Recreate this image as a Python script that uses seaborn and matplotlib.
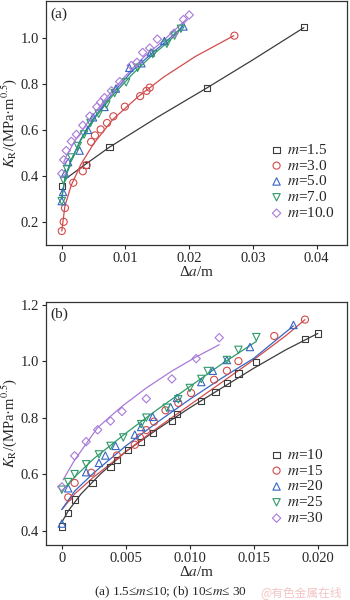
import seaborn as sns
import matplotlib.pyplot as plt

# ---- panel (a): 1.5 <= m <= 10 ----
a_labels = ['1.5', '3.0', '5.0', '7.0', '10.0']

a15_x = [0, 0.0038, 0.0075, 0.0228, 0.038]
a15_y = [0.357, 0.447, 0.527, 0.783, 1.048]
a15_fx = [0.0005, 0.0038, 0.0075, 0.015, 0.0228, 0.030, 0.038]
a15_fy = [0.385, 0.452, 0.525, 0.655, 0.783, 0.905, 1.045]

a30_x = [0, 0.0003, 0.0005, 0.0018, 0.0033, 0.0039, 0.0046, 0.0052, 0.0061,
         0.0071, 0.0081, 0.0099, 0.0123, 0.0133, 0.0138, 0.0271]
a30_y = [0.16, 0.20, 0.26, 0.37, 0.42, 0.447, 0.548, 0.576, 0.602,
         0.630, 0.659, 0.701, 0.747, 0.770, 0.784, 1.01]
a30_fx = [0, 0.0005, 0.0015, 0.003, 0.005, 0.008, 0.012, 0.016, 0.021, 0.027]
a30_fy = [0.16, 0.27, 0.36, 0.45, 0.54, 0.645, 0.745, 0.83, 0.92, 1.01]

a50_x = [0, 0.0002, 0.0005, 0.001, 0.0028, 0.0041, 0.0049, 0.0067, 0.0085,
         0.0106, 0.0125, 0.014, 0.0161, 0.0191]
a50_y = [0.29, 0.33, 0.41, 0.46, 0.51, 0.60, 0.655, 0.70, 0.78,
         0.87, 0.89, 0.937, 0.987, 1.05]
a50_fx = [0, 0.0005, 0.0015, 0.003, 0.005, 0.008, 0.011, 0.014, 0.017, 0.019]
a50_fy = [0.30, 0.39, 0.47, 0.56, 0.65, 0.76, 0.855, 0.93, 1.0, 1.05]

a70_x = [0, 0.0003, 0.0008, 0.0015, 0.0025, 0.0035, 0.0045, 0.0058, 0.007,
         0.0083, 0.0101, 0.0119, 0.0143, 0.0165, 0.0177, 0.0187]
a70_y = [0.29, 0.38, 0.43, 0.48, 0.53, 0.58, 0.63, 0.67, 0.71,
         0.76, 0.807, 0.87, 0.93, 0.975, 1.01, 1.04]
a70_fx = [0, 0.0005, 0.0015, 0.003, 0.005, 0.008, 0.011, 0.014, 0.017, 0.0187]
a70_fy = [0.31, 0.39, 0.47, 0.555, 0.645, 0.75, 0.84, 0.92, 0.99, 1.04]

a100_x = [0, 0.0003, 0.0007, 0.0015, 0.0023, 0.0033, 0.0044, 0.0055, 0.0061,
          0.0067, 0.0078, 0.0091, 0.0109, 0.0118, 0.0127, 0.0138, 0.015,
          0.0176, 0.0191, 0.020]
a100_y = [0.41, 0.47, 0.51, 0.55, 0.58, 0.62, 0.66, 0.70, 0.72,
          0.74, 0.77, 0.81, 0.88, 0.894, 0.937, 0.956, 0.995,
          1.02, 1.08, 1.10]
a100_fx = [0.0003, 0.001, 0.002, 0.004, 0.007, 0.010, 0.013, 0.016, 0.0195]
a100_fy = [0.46, 0.50, 0.55, 0.63, 0.74, 0.835, 0.92, 0.99, 1.08]

# ---- panel (b): 10 <= m <= 30 ----
b_labels = ['10', '15', '20', '25', '30']

b10_x = [0, 0.0005, 0.001, 0.0024, 0.0038, 0.0043, 0.0052, 0.0062, 0.0071,
         0.0086, 0.009, 0.0109, 0.012, 0.0129, 0.0138, 0.0152, 0.019, 0.020]
b10_y = [0.415, 0.462, 0.51, 0.569, 0.625, 0.651, 0.686, 0.714, 0.747,
         0.788, 0.813, 0.858, 0.892, 0.923, 0.956, 0.997, 1.079, 1.098]
b10_fx = [0, 0.0005, 0.0015, 0.003, 0.005, 0.0075, 0.010, 0.0125, 0.015, 0.0175, 0.020]
b10_fy = [0.43, 0.47, 0.53, 0.60, 0.68, 0.76, 0.835, 0.905, 0.975, 1.04, 1.098]

b15_x = [0.0005, 0.001, 0.0023, 0.0043, 0.0057, 0.0061, 0.0066, 0.0072, 0.0081,
         0.0091, 0.0101, 0.0119, 0.0129, 0.0138, 0.0166, 0.019]
b15_y = [0.518, 0.569, 0.605, 0.666, 0.704, 0.73, 0.756, 0.786, 0.826,
         0.852, 0.887, 0.934, 0.966, 1.0, 1.089, 1.147]
b15_fx = [0, 0.001, 0.0025, 0.005, 0.0075, 0.010, 0.0125, 0.015, 0.0175, 0.019]
b15_fy = [0.475, 0.53, 0.59, 0.68, 0.765, 0.845, 0.925, 1.005, 1.09, 1.147]

b20_x = [0, 0.0005, 0.0019, 0.0029, 0.0034, 0.0042, 0.0057, 0.0062, 0.0071,
         0.0085, 0.009, 0.0109, 0.0118, 0.0129, 0.0147, 0.0181]
b20_y = [0.425, 0.55, 0.607, 0.64, 0.666, 0.70, 0.74, 0.767, 0.803,
         0.837, 0.87, 0.926, 0.966, 1.004, 1.05, 1.128]
b20_fx = [0, 0.001, 0.0025, 0.005, 0.0075, 0.010, 0.0125, 0.015, 0.0181]
b20_fy = [0.475, 0.54, 0.605, 0.70, 0.785, 0.865, 0.94, 1.01, 1.125]

b25_x = [0, 0.0005, 0.001, 0.0019, 0.0029, 0.0038, 0.0048, 0.0062, 0.0066,
         0.0082, 0.0091, 0.010, 0.0109, 0.0114, 0.0129, 0.0138, 0.0152]
b25_y = [0.545, 0.572, 0.60, 0.635, 0.67, 0.70, 0.73, 0.777, 0.80,
         0.835, 0.865, 0.905, 0.937, 0.965, 1.004, 1.04, 1.085]
b25_fx = [0, 0.001, 0.0025, 0.005, 0.0075, 0.010, 0.0125, 0.0152]
b25_fy = [0.54, 0.59, 0.655, 0.745, 0.83, 0.91, 0.99, 1.07]

b30_x = [0, 0.001, 0.0019, 0.0028, 0.0038, 0.0047, 0.0066, 0.0086, 0.0105, 0.0123]
b30_y = [0.555, 0.665, 0.715, 0.757, 0.788, 0.822, 0.867, 0.937, 1.009, 1.083]
b30_fx = [0.0001, 0.001, 0.0028, 0.0047, 0.0066, 0.0086, 0.0105, 0.0123]
b30_fy = [0.58, 0.65, 0.765, 0.84, 0.905, 0.965, 1.015, 1.058]

colors = ['#3c3c3c', '#d24b4b', '#3566c4', '#2f9a68', '#a87ad8']
markers = ['s', 'o', '^', 'v', 'D']
msizes = [20, 26, 28, 28, 18]

sns.set_style('ticks')
plt.rcParams['font.family'] = ['Liberation Serif', 'DejaVu Serif']
plt.rcParams['mathtext.fontset'] = 'stix'

fig = plt.figure(figsize=(3.5, 6), dpi=100)
ax1 = fig.add_axes([0.131, 0.592, 0.861, 0.406])
ax2 = fig.add_axes([0.131, 0.092, 0.861, 0.405])


def draw(ax, series, labels):
    for i, (sx, sy, fx, fy) in enumerate(series):
        c = colors[i]
        sns.lineplot(x=fx, y=fy, ax=ax, color=c, lw=0.9, sort=False,
                     estimator=None, legend=False)
        sns.scatterplot(x=sx, y=sy, ax=ax, marker=markers[i], s=msizes[i],
                        facecolor='none', edgecolor=c, linewidth=0.8,
                        label='$m$=' + labels[i], zorder=3)


draw(ax1, [(a15_x, a15_y, a15_fx, a15_fy), (a30_x, a30_y, a30_fx, a30_fy),
           (a50_x, a50_y, a50_fx, a50_fy), (a70_x, a70_y, a70_fx, a70_fy),
           (a100_x, a100_y, a100_fx, a100_fy)], a_labels)
draw(ax2, [(b10_x, b10_y, b10_fx, b10_fy), (b15_x, b15_y, b15_fx, b15_fy),
           (b20_x, b20_y, b20_fx, b20_fy), (b25_x, b25_y, b25_fx, b25_fy),
           (b30_x, b30_y, b30_fx, b30_fy)], b_labels)

ax1.set_xlim(-0.0025, 0.0448)
ax1.set_ylim(0.1, 1.16)
ax1.set_xticks([0, 0.01, 0.02, 0.03, 0.04])
ax1.set_xticklabels(['0', '0.01', '0.02', '0.03', '0.04'])
ax1.set_yticks([0.2, 0.4, 0.6, 0.8, 1.0])
ax1.set_yticklabels(['0.2', '0.4', '0.6', '0.8', '1.0'])

ax2.set_xlim(-0.00125, 0.0223)
ax2.set_ylim(0.35, 1.21)
ax2.set_xticks([0, 0.005, 0.010, 0.015, 0.020])
ax2.set_xticklabels(['0', '0.005', '0.010', '0.015', '0.020'])
ax2.set_yticks([0.4, 0.6, 0.8, 1.0, 1.2])
ax2.set_yticklabels(['0.4', '0.6', '0.8', '1.0', '1.2'])

for ax, tag, leg_y in [(ax1, '(a)', 0.26), (ax2, '(b)', 0.24)]:
    ax.set_xlabel('Δ$a$/m', fontsize=11, labelpad=0)
    ax.set_ylabel('$K_{\\mathrm{R}}$/(MPa·m$^{0.5}$)', fontsize=10.5, labelpad=1)
    ax.tick_params(labelsize=10.5, length=3, width=0.8, pad=2)
    for sp in ax.spines.values():
        sp.set_linewidth(0.9)
        sp.set_color('#333333')
    ax.text(0.015, 0.975, tag, transform=ax.transAxes, ha='left', va='top',
            fontsize=11)
    ax.legend(loc='center left', bbox_to_anchor=(0.72, leg_y), frameon=False,
              fontsize=11, handlelength=0.8, handletextpad=0.3,
              labelspacing=0.12, borderpad=0)

fig.text(0.486, 0.013, '(a) 1.5≤$m$≤10; (b) 10≤$m$≤ 30', ha='center',
         va='center', fontsize=9.5)
fig.text(0.86, 0.013, '@有色金属在线', ha='center', va='center', fontsize=8.5,
         color='#f2c4c4', family=['Noto Sans CJK SC', 'DejaVu Sans'])

fig.savefig('out.png', dpi=100)
